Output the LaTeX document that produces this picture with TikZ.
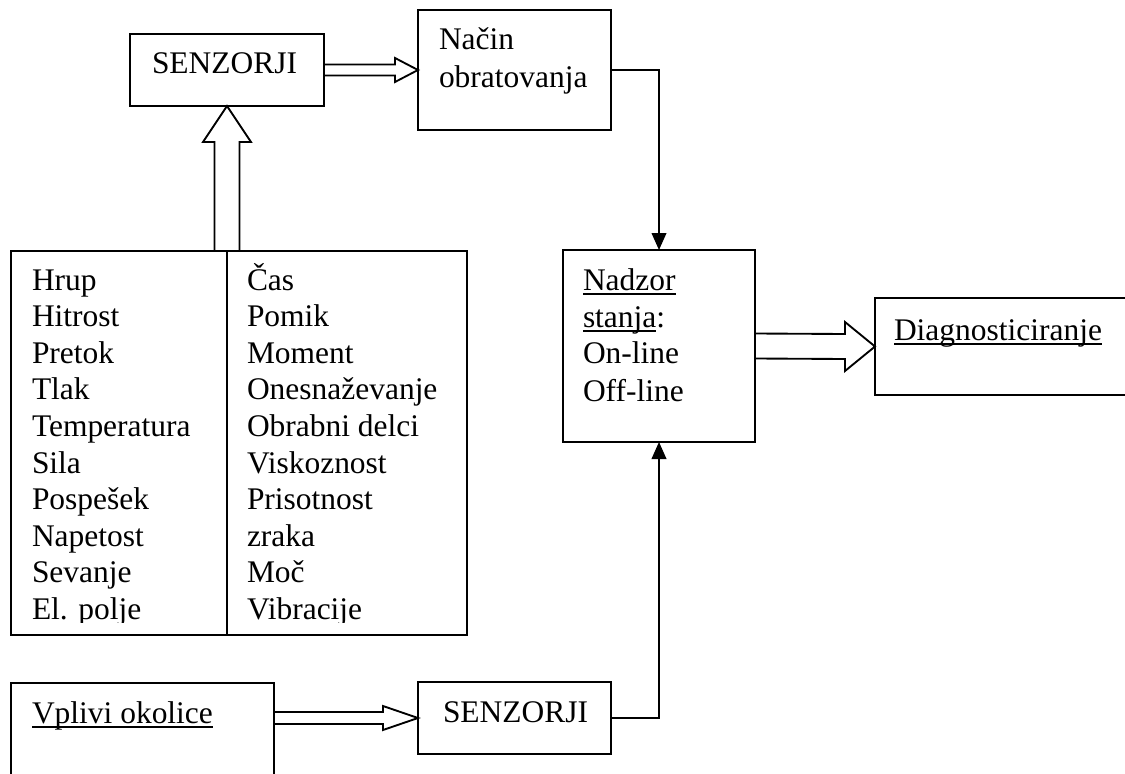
\documentclass[tikz,border=0pt]{standalone}
\usepackage{fontspec}
\setmainfont{Liberation Serif}
\usetikzlibrary{calc,arrows.meta}

% underline at a fixed depth below the baseline
\newcommand\wul[1]{\setbox0\hbox{#1}\rlap{\rule[-3.6pt]{\wd0}{1.2pt}}\box0}

% hollow block arrow pointing right: from, to, shaft half-width, head half-width, head length
\newcommand\hollowright[5]{%
  \draw[hollow] ($(#1)+(0,-#3)$) -- ($(#2)+(-#5,-#3)$) -- ($(#2)+(-#5,-#4)$) -- (#2)
    -- ($(#2)+(-#5,#4)$) -- ($(#2)+(-#5,#3)$) -- ($(#1)+(0,#3)$);}
% hollow block arrow pointing up
\newcommand\hollowup[5]{%
  \draw[hollow] ($(#1)+(-#3,0)$) -- ($(#2)+(-#3,#5)$) -- ($(#2)+(-#4,#5)$) -- (#2)
    -- ($(#2)+(#4,#5)$) -- ($(#2)+(#3,#5)$) -- ($(#1)+(#3,0)$);}

\begin{document}
\begin{tikzpicture}[x=0.75pt,y=-0.75pt,
  every node/.style={font=\fontsize{23.6}{28}\selectfont},
  box/.style 2 args={draw,line width=1.4pt,inner sep=0pt,outer sep=0pt,
    minimum width=#1*0.75pt,minimum height=#2*0.75pt},
  txt/.style={anchor=base west,inner sep=0pt,outer sep=0pt},
  hollow/.style={line width=1.4pt,line join=miter},
  link/.style={line width=1.4pt,-{Triangle[length=12.75pt,width=11pt]}}]
\useasboundingbox (0,0) rectangle (1125,774);
\clip (0,0) rectangle (1125,774);

% boxes
\node[box={194}{72}]  (s1)     at (227,70) {};
\node[box={193}{120}] (nacin)  at (514.5,70) {};
\node[box={456}{384}] (tbl)    at (239,443) {};
\node[box={192}{192}] (nadzor) at (659,346) {};
\node[box={260}{97}]  (diag)   at (1005,346.5) {};
\node[box={263}{117}] (vplivi) at (142.5,741.5) {};
\node[box={193}{72}]  (s2)     at (514.5,718) {};

% column divider of the list of quantities
\coordinate (divtop) at ($(tbl.north west)+(216,0)$);
\draw[line width=1.4pt] (divtop) -- (divtop |- tbl.south);

% texts
\node[txt] (t1) at (152,74) {SENZORJI};
\node[txt] (t2) at (439,50) {Način};
\node[txt] (t3) at (439,88) {obratovanja};
\node[txt] (t4) at (583,290) {\wul{Nadzor}};
\node[txt] (t5) at (583,327) {\wul{stanja}:};
\node[txt] (t6) at (583,363) {On-line};
\node[txt] (t7) at (583,401) {Off-line};
\node[txt] (t8) at (894,340) {\wul{Diagnosticiranje}};
\node[txt] (t9) at (32,723) {\wul{Vplivi okolice}};
\node[txt] (t10) at (443,722) {SENZORJI};

\begin{scope}
  \clip (11,251) rectangle (467,622);
  \foreach \w [count=\i from 0] in {Hrup,Hitrost,Pretok,Tlak,Temperatura,Sila,Pospešek,Napetost,Sevanje,El. polje}
    \node[txt] (l\i) at (32,290+36.6*\i) {\w};
  \foreach \w [count=\i from 0] in {Čas,Pomik,Moment,Onesnaževanje,Obrabni delci,Viskoznost,Prisotnost,zraka,Moč,Vibracije}
    \node[txt] (r\i) at (247,290+36.6*\i) {\w};
\end{scope}

% block arrows
\hollowright{s1.east}{nacin.west}{5.5}{12}{23}
\hollowup{divtop}{s1.south}{12.5}{24}{36}
\hollowright{nadzor.east}{diag.west}{12.5}{24.5}{30}
\coordinate (vout) at (vplivi.east |- s2.west);
\hollowright{vout}{s2.west}{6}{12}{35}

% connectors
\draw[link] (nacin.east) -| (nadzor.north);
\draw[link] (s2.east) -| (nadzor.south);
\end{tikzpicture}
\end{document}
